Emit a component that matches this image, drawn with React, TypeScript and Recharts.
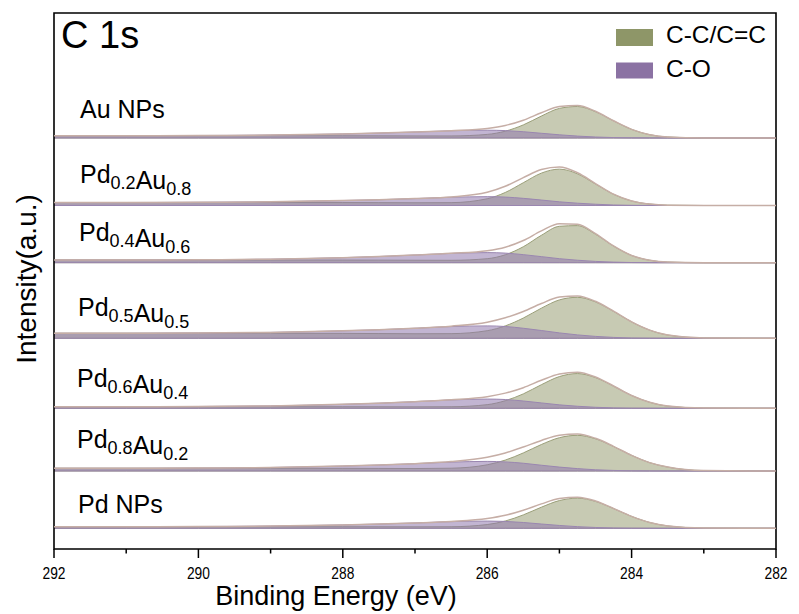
import { Area, ComposedChart, Line, ReferenceArea, XAxis, YAxis } from "recharts"

// binding energy grid (eV) shared by every spectrum
const energies = [292, 291, 290, 289, 288, 287.5, 287, 286.5, 286, 285.75, 285.5, 285.25, 285, 284.75, 284.5, 284.25, 284, 283.75, 283.5, 283, 282]
// Shirley-type step of the background, 0 = high-BE side, 1 = low-BE side
const shirleyStep = [0, 0, 0, 0, 0.02, 0.05, 0.09, 0.15, 0.22, 0.26, 0.31, 0.38, 0.48, 0.6, 0.74, 0.86, 0.94, 0.98, 1, 1, 1]
const xTicks = [292, 291, 290, 289, 288, 287, 286, 285, 284, 283, 282]

// each spectrum: background level left/right + fitted C-C and C-O components
const auCC = [0, 0, 0, 0, 0, 0, 0, 0.1, 1.8, 5.1, 11.5, 20.5, 28.4, 30.6, 25.7, 16.8, 8.5, 3.3, 1.0, 0, 0]
const auCO = [0, 0, 0.2, 0.6, 1.8, 2.7, 3.9, 5.3, 6.0, 5.7, 4.7, 3.3, 2.0, 1.0, 0.4, 0.1, 0, 0, 0, 0, 0]
const pd2CC = [0, 0, 0, 0, 0, 0, 0, 0.3, 4.4, 10.8, 20.7, 30.5, 34.8, 30.5, 20.7, 10.8, 4.4, 1.4, 0.3, 0, 0]
const pd2CO = [0, 0, 0.2, 0.7, 2.0, 2.9, 4.2, 5.7, 6.5, 6.2, 5.1, 3.6, 2.1, 1.1, 0.5, 0.1, 0, 0, 0, 0, 0]
const pd4CC = [0, 0, 0, 0, 0, 0, 0, 0.1, 1.9, 5.9, 14.1, 25.7, 35.0, 36.0, 27.8, 16.2, 7.1, 2.4, 0.6, 0, 0]
const pd4CO = [0, 0, 0.2, 0.8, 2.4, 3.6, 5.2, 7.0, 8.0, 7.6, 6.2, 4.4, 2.6, 1.4, 0.6, 0.2, 0, 0, 0, 0, 0]
const pd5CC = [0, 0, 0, 0, 0, 0, 0, 0.4, 3.7, 8.7, 16.8, 27.0, 35.8, 39.0, 35.1, 26.2, 16.1, 8.1, 3.3, 0.3, 0]
const pd5CO = [0, 0, 0.3, 0.9, 2.6, 3.8, 5.5, 7.5, 8.5, 8.1, 6.6, 4.7, 2.8, 1.4, 0.6, 0.2, 0, 0, 0, 0, 0]
const pd6CC = [0, 0, 0, 0, 0, 0, 0, 0.2, 2.4, 6.4, 13.3, 22.6, 30.9, 34.1, 30.3, 21.9, 12.7, 6.0, 2.2, 0.2, 0]
const pd6CO = [0, 0, 0.2, 0.8, 2.4, 3.6, 5.2, 7.0, 8.0, 7.6, 6.2, 4.4, 2.6, 1.4, 0.6, 0.2, 0, 0, 0, 0, 0]
const pd8CC = [0, 0, 0, 0, 0, 0, 0, 0.5, 4.1, 8.9, 16.2, 24.8, 31.9, 34.6, 31.5, 24.1, 15.5, 8.3, 3.9, 0.4, 0]
const pd8CO = [0, 0, 0.2, 0.8, 2.3, 3.4, 4.9, 6.6, 7.5, 7.1, 5.9, 4.1, 2.5, 1.3, 0.5, 0.2, 0, 0, 0, 0, 0]
const pdCC = [0, 0, 0, 0, 0, 0, 0, 0.2, 2.5, 6.1, 12.3, 20.1, 26.9, 29.5, 26.5, 19.5, 11.8, 5.8, 2.4, 0.2, 0]
const pdCO = [0, 0, 0.2, 0.6, 1.8, 2.7, 3.9, 5.3, 6.0, 5.7, 4.7, 3.3, 2.0, 1.0, 0.4, 0.1, 0, 0, 0, 0, 0]

const spectra = [
  { key: "au", high: 413.3, low: 411.0, cc: auCC, co: auCO },
  { key: "pd2", high: 346.5, low: 343.5, cc: pd2CC, co: pd2CO },
  { key: "pd4", high: 289.0, low: 286.3, cc: pd4CC, co: pd4CO },
  { key: "pd5", high: 215.7, low: 210.7, cc: pd5CC, co: pd5CO },
  { key: "pd6", high: 142.3, low: 140.7, cc: pd6CC, co: pd6CO },
  { key: "pd8", high: 80.7, low: 78.0, cc: pd8CC, co: pd8CO },
  { key: "pd", high: 22.3, low: 20.7, cc: pdCC, co: pdCO },
]

// sample labels: main text + subscripts
const sampleLabels = [
  { parts: [["Au NPs", ""]], x: 80, y: 118 },
  { parts: [["Pd", "0.2"], ["Au", "0.8"]], x: 80, y: 183 },
  { parts: [["Pd", "0.4"], ["Au", "0.6"]], x: 79, y: 241 },
  { parts: [["Pd", "0.5"], ["Au", "0.5"]], x: 78, y: 316 },
  { parts: [["Pd", "0.6"], ["Au", "0.4"]], x: 77, y: 387 },
  { parts: [["Pd", "0.8"], ["Au", "0.2"]], x: 77, y: 448 },
  { parts: [["Pd NPs", ""]], x: 78, y: 513 },
]

const FONT = "Arial, 'Liberation Sans', Helvetica, sans-serif"
const CC_FILL = "#c7cab3"
const CC_STROKE = "#9a9e78"
const CO_FILL = "#8f78ad"
const CO_STROKE = "#9a86b0"
const ENV_STROKE = "#c6aea6"

const rows = energies.map((e, i) => {
  const row: any = { e }
  spectra.forEach((s) => {
    const bg = s.high - (s.high - s.low) * shirleyStep[i]
    row[s.key + "CC"] = [s.low, bg + s.cc[i]]
    row[s.key + "CO"] = [s.low, bg + s.co[i]]
    row[s.key + "Env"] = bg + s.cc[i] + s.co[i]
  })
  return row
})

function EnergyTick(props: any) {
  const { x, y, payload } = props
  const major = payload.value % 2 === 0
  return (
    <g>
      <line x1={x} x2={x} y1={y} y2={y + (major ? 9 : 4.5)} stroke="#000" strokeWidth={1.5} />
      {major && (
        <text
          x={x}
          y={y + 30}
          textAnchor="middle"
          fontSize={16}
          fontFamily={FONT}
          fill="#000"
          textLength={23}
          lengthAdjust="spacingAndGlyphs"
        >
          {payload.value}
        </text>
      )}
    </g>
  )
}

export default function App() {
  return (
    <div style={{ position: "absolute", left: 0, top: 0, width: 799, height: 614, background: "#fff" }}>
      <ComposedChart
        width={799}
        height={614}
        data={rows}
        margin={{ top: 13, right: 23, left: 54, bottom: 0 }}
      >
        <XAxis
          dataKey="e"
          type="number"
          domain={[282, 292]}
          reversed
          ticks={xTicks}
          interval={0}
          height={65}
          axisLine={false}
          tickLine={false}
          tickSize={0}
          tickMargin={0}
          tick={<EnergyTick />}
        />
        <YAxis type="number" domain={[0, 536]} hide width={0} />
        {spectra.map((s) => [
          <Area
            key={s.key + "CC"}
            type="monotone"
            dataKey={s.key + "CC"}
            fill={CC_FILL}
            fillOpacity={1}
            stroke={CC_STROKE}
            strokeWidth={1}
            dot={false}
            activeDot={false}
            isAnimationActive={false}
          />,
          <Area
            key={s.key + "CO"}
            type="monotone"
            dataKey={s.key + "CO"}
            fill={CO_FILL}
            fillOpacity={0.55}
            stroke={CO_STROKE}
            strokeWidth={1}
            dot={false}
            activeDot={false}
            isAnimationActive={false}
          />,
          <Line
            key={s.key + "Env"}
            type="monotone"
            dataKey={s.key + "Env"}
            stroke={ENV_STROKE}
            strokeWidth={1.5}
            dot={false}
            activeDot={false}
            isAnimationActive={false}
          />,
        ])}
        <ReferenceArea
          x1={292}
          x2={282}
          y1={0}
          y2={536}
          fill="none"
          fillOpacity={0}
          stroke="#000"
          strokeWidth={1.6}
        />
      </ComposedChart>
      <svg
        width={799}
        height={614}
        style={{ position: "absolute", left: 0, top: 0, pointerEvents: "none" }}
        fontFamily={FONT}
      >
        <text x={61} y={48} fontSize={38} fill="#000">C 1s</text>
        <rect x={616} y={29} width={37} height={17} fill="#8e9668" />
        <rect x={616} y={62.5} width={37} height={16} fill="#8b72a3" />
        <text x={666} y={43} fontSize={24.5} fill="#000">C-C/C=C</text>
        <text x={666} y={77} fontSize={24.5} fill="#000">C-O</text>
        {sampleLabels.map((l, i) => (
          <text key={i} x={l.x} y={l.y} fontSize={25} fill="#000">
            {l.parts.map(([main, sub], j) => [
              <tspan key={j + "m"}>{main}</tspan>,
              sub ? (
                <tspan key={j + "s"} fontSize={18} dy={6}>{sub}</tspan>
              ) : null,
              sub ? <tspan key={j + "r"} dy={-6}>{""}</tspan> : null,
            ])}
          </text>
        ))}
        <text
          x={36}
          y={279}
          fontSize={28}
          textAnchor="middle"
          transform="rotate(-90 36 279)"
          fill="#000"
        >
          Intensity(a.u.)
        </text>
        <text x={336} y={605} fontSize={27} textAnchor="middle" fill="#000">
          Binding Energy (eV)
        </text>
      </svg>
    </div>
  )
}
